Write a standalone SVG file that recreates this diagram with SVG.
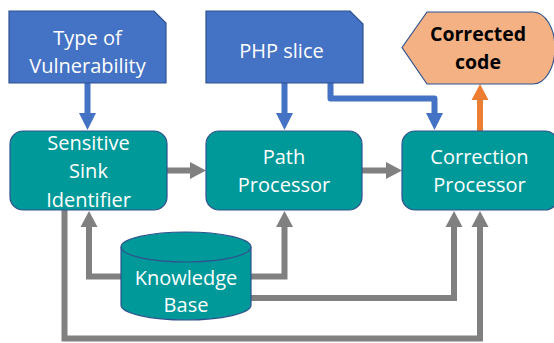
<svg xmlns="http://www.w3.org/2000/svg" width="554" height="343" viewBox="0 0 554 343">
<style>
.t{font-family:"Open Sans","Noto Sans","Liberation Sans",sans-serif;font-size:20px;fill:#ffffff;text-anchor:middle}
.b{font-family:"Open Sans","Noto Sans","Liberation Sans",sans-serif;font-size:19.5px;font-weight:bold;fill:#000000;text-anchor:middle}
.blue{fill:#4472C4;stroke:#2F528F;stroke-width:1.2}
.teal{fill:#009999;stroke:#2F528F;stroke-width:1.2}
.orange{fill:#F4B183;stroke:#2F528F;stroke-width:1.2}
.cb{fill:none;stroke:#4472C4;stroke-width:6;stroke-linejoin:round}
.cg{fill:none;stroke:#808080;stroke-width:6;stroke-linejoin:miter}
.co{fill:none;stroke:#ED7D31;stroke-width:6}
</style>
<defs>
<marker id="hb" markerUnits="userSpaceOnUse" markerWidth="17" markerHeight="18" refX="0" refY="8.5" orient="auto" overflow="visible"><path d="M0,0 L17,8.5 L0,17 Z" fill="#4472C4"/></marker>
<marker id="hg" markerUnits="userSpaceOnUse" markerWidth="17" markerHeight="18" refX="0" refY="8.5" orient="auto" overflow="visible"><path d="M0,0 L16,8.5 L0,17 Z" fill="#808080"/></marker>
<marker id="ho" markerUnits="userSpaceOnUse" markerWidth="17" markerHeight="18" refX="0" refY="8.5" orient="auto" overflow="visible"><path d="M0,0 L16,8.5 L0,17 Z" fill="#ED7D31"/></marker>
</defs>
<g id="connectors">
<path class="cb" d="M87.5,83 V113" marker-end="url(#hb)"/>
<path class="cb" d="M284.5,83 V113" marker-end="url(#hb)"/>
<path class="cb" d="M330.5,83 V98.5 H434.5 V113" marker-end="url(#hb)"/>
<path class="co" d="M480,131 V100" marker-end="url(#ho)"/>
<path class="cg" d="M167,170.5 H190" marker-end="url(#hg)"/>
<path class="cg" d="M362,170.5 H386" marker-end="url(#hg)"/>
<path class="cg" d="M121,276.5 H89 V227" marker-end="url(#hg)"/>
<path class="cg" d="M251,276.5 H284.5 V227" marker-end="url(#hg)"/>
<path class="cg" d="M251,298 H454 V227" marker-end="url(#hg)"/>
<path class="cg" d="M64.5,210 V338.5 H480 V227" marker-end="url(#hg)"/>
</g>
<g id="type-of-vulnerability">
<path class="blue" d="M9,11 H154 L166,23 V83 H9 Z"/>
<text class="t" x="87.5" y="45">Type of</text>
<text class="t" x="87.5" y="73">Vulnerability</text>
</g>
<g id="php-slice">
<path class="blue" d="M206,11 H350 L363,24 V83 H206 Z"/>
<text class="t" x="281.5" y="58">PHP slice</text>
</g>
<g id="corrected-code">
<path class="orange" d="M402,47.5 L427,12 H533 A22,36 0 0 1 533,84 H427 Z"/>
<text class="b" x="478" y="41">Corrected</text>
<text class="b" x="478" y="69">code</text>
</g>
<g id="sensitive-sink-identifier">
<rect class="teal" x="10" y="131" width="157" height="79" rx="13"/>
<text class="t" x="88.5" y="150">Sensitive</text>
<text class="t" x="88.5" y="178">Sink</text>
<text class="t" x="88.5" y="207">Identifier</text>
</g>
<g id="path-processor">
<rect class="teal" x="206" y="131" width="156" height="79" rx="13"/>
<text class="t" x="284" y="164">Path</text>
<text class="t" x="284" y="192">Processor</text>
</g>
<g id="correction-processor">
<rect class="teal" x="402" y="131" width="156" height="79" rx="13"/>
<text class="t" x="479.5" y="164">Correction</text>
<text class="t" x="479.5" y="192">Processor</text>
</g>
<g id="knowledge-base">
<path class="teal" d="M121,247 A65,15 0 0 1 251,247 V305 A65,15 0 0 1 121,305 Z"/>
<path class="teal" d="M121,247 A65,15 0 0 0 251,247"/>
<text class="t" x="186" y="285">Knowledge</text>
<text class="t" x="186" y="312">Base</text>
</g>
</svg>
